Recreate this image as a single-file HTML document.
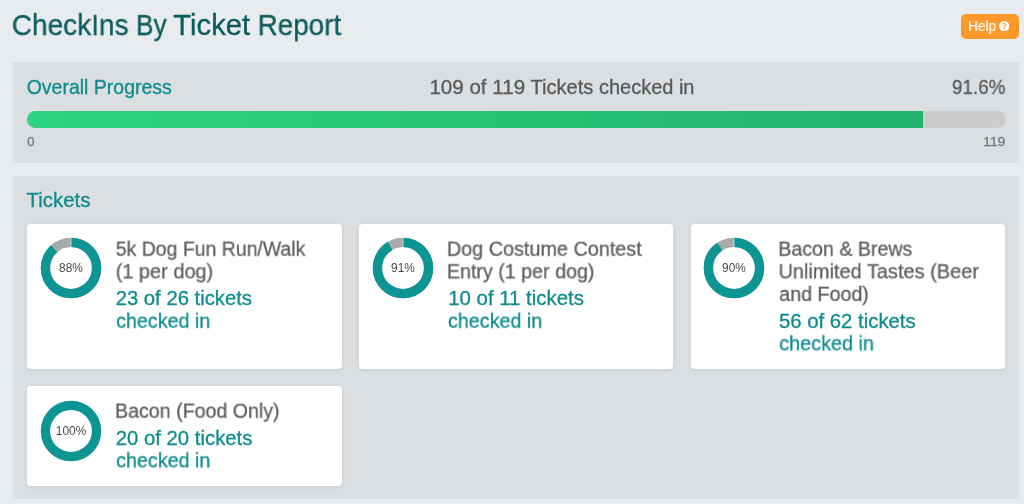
<!DOCTYPE html>
<html><head><meta charset="utf-8">
<style>
*{box-sizing:border-box;margin:0;padding:0}
html,body{width:1024px;height:504px;overflow:hidden}
body{background:#e8ecef;font-family:"Liberation Sans",sans-serif;position:relative}
.x{-webkit-text-stroke:0.3px;will-change:transform;position:absolute;white-space:nowrap;transform-origin:0 0;line-height:1}
.d{position:absolute;will-change:transform}
#help{position:absolute;left:961.2px;top:13.7px;width:58px;height:25px;border-radius:5px;background:#fb9a2b}
.panel{position:absolute;background:#dcdfe2}
#bar{position:absolute;left:27px;top:111.4px;width:978.8px;height:16.7px;border-radius:9px;background:#cccccc;overflow:hidden}
#fill{width:896.3px;height:17px;background:linear-gradient(90deg,#2ed47f,#21b26d)}
.card{position:absolute;background:#fff;border-radius:4px;box-shadow:0 1px 5px rgba(0,0,0,.09)}
</style></head><body>
<div id="help"></div>
<svg class="d" style="left:999px;top:20.5px" width="10.4" height="10.4" viewBox="0 0 20 20"><circle cx="10" cy="10" r="10" fill="#fff"/><text x="10" y="15.5" text-anchor="middle" font-family="Liberation Sans, sans-serif" font-weight="bold" font-size="16" fill="#fb9a2b">?</text></svg>
<div class="panel" style="left:13.3px;top:62px;width:1005.7px;height:101px"></div>
<div class="panel" style="left:13.3px;top:176px;width:1005.7px;height:323.2px"></div>
<div id="bar"><div id="fill"></div></div>
<div class="card" style="left:26.9px;top:224px;width:314.9px;height:145px"></div>
<div class="card" style="left:358.9px;top:224px;width:314.4px;height:145px"></div>
<div class="card" style="left:690.5px;top:224px;width:314.7px;height:145px"></div>
<div class="card" style="left:26.9px;top:386.4px;width:315px;height:99.6px"></div>
<svg class="d" style="left:39.30px;top:236.00px" width="64" height="64" viewBox="-32 -32 64 64"><circle r="25.6" fill="none" stroke="#a7a9aa" stroke-width="9.3"/><circle r="25.6" fill="none" stroke="#0d9495" stroke-width="9.3" stroke-dasharray="141.55 19.30" transform="rotate(-90)"/><line x1="0" y1="-20" x2="0" y2="-32" stroke="#fff" stroke-width="0.6"/><text x="0" y="4.3" transform="scale(0.95,1)" text-anchor="middle" font-family="Liberation Sans, sans-serif" font-size="12.5" fill="#4a4a4a">88%</text></svg>
<svg class="d" style="left:371.00px;top:235.80px" width="64" height="64" viewBox="-32 -32 64 64"><circle r="25.6" fill="none" stroke="#a7a9aa" stroke-width="9.3"/><circle r="25.6" fill="none" stroke="#0d9495" stroke-width="9.3" stroke-dasharray="146.37 14.48" transform="rotate(-90)"/><line x1="0" y1="-20" x2="0" y2="-32" stroke="#fff" stroke-width="0.6"/><text x="0" y="4.3" transform="scale(0.95,1)" text-anchor="middle" font-family="Liberation Sans, sans-serif" font-size="12.5" fill="#4a4a4a">91%</text></svg>
<svg class="d" style="left:702.20px;top:235.80px" width="64" height="64" viewBox="-32 -32 64 64"><circle r="25.6" fill="none" stroke="#a7a9aa" stroke-width="9.3"/><circle r="25.6" fill="none" stroke="#0d9495" stroke-width="9.3" stroke-dasharray="144.76 16.08" transform="rotate(-90)"/><line x1="0" y1="-20" x2="0" y2="-32" stroke="#fff" stroke-width="0.6"/><text x="0" y="4.3" transform="scale(0.95,1)" text-anchor="middle" font-family="Liberation Sans, sans-serif" font-size="12.5" fill="#4a4a4a">90%</text></svg>
<svg class="d" style="left:39.20px;top:398.60px" width="64" height="64" viewBox="-32 -32 64 64"><circle r="25.6" fill="none" stroke="#0d9495" stroke-width="9.3"/><text x="0" y="4.3" transform="scale(0.95,1)" text-anchor="middle" font-family="Liberation Sans, sans-serif" font-size="12.5" fill="#4a4a4a">100%</text></svg>
<div class="x" style="left:11px;top:11px;font-size:29.09px;color:#0b5b5b;transform:translate(0.75px,0.10px) scaleX(0.9634)">CheckIns</div>
<div class="x" style="left:135px;top:11px;font-size:29.09px;color:#0b5b5b;transform:translate(0.94px,0.10px) scaleX(0.9024)">By</div>
<div class="x" style="left:173px;top:11px;font-size:29.09px;color:#0b5b5b;transform:translate(0.35px,0.10px) scaleX(1.0053)">Ticket</div>
<div class="x" style="left:257px;top:11px;font-size:29.09px;color:#0b5b5b;transform:translate(0.61px,0.10px) scaleX(0.9574)">Report</div>
<div class="x" style="left:26px;top:77px;font-size:19.35px;color:#0e8c8d;transform:translate(0.69px,0.90px) scaleX(1.0074)">Overall Progress</div>
<div class="x" style="left:429px;top:77px;font-size:19.35px;color:#595959;transform:translate(0.41px,0.90px) scaleX(1.0629)">109 of 119</div>
<div class="x" style="left:530px;top:77px;font-size:19.35px;color:#595959;transform:translate(0.38px,0.90px) scaleX(1.0397)">Tickets</div>
<div class="x" style="left:598px;top:77px;font-size:19.35px;color:#595959;transform:translate(0.93px,0.90px) scaleX(1.0331)">checked in</div>
<div class="x" style="left:951px;top:77px;font-size:19.35px;color:#595959;transform:translate(0.93px,0.90px) scaleX(0.9728)">91.6%</div>
<div class="x" style="left:27px;top:136px;font-size:12.95px;color:#777;transform:translate(0.20px,0.00px) scaleX(1.0080)">0</div>
<div class="x" style="left:982px;top:136px;font-size:12.95px;color:#777;transform:translate(0.91px,0.00px) scaleX(1.0895)">119</div>
<div class="x" style="left:26px;top:190px;font-size:19.35px;color:#0e8c8d;transform:translate(0.47px,0.70px) scaleX(1.0565)">Tickets</div>
<div class="x" style="left:115px;top:238px;font-size:20.22px;color:#5f5f5f;transform:translate(0.74px,0.70px) scaleX(0.9630)">5k Dog Fun Run/Walk</div>
<div class="x" style="left:115px;top:261px;font-size:20.22px;color:#5f5f5f;transform:translate(0.67px,0.30px) scaleX(0.9870)">(1 per dog)</div>
<div class="x" style="left:115px;top:288px;font-size:20.22px;color:#0e8c8d;transform:translate(0.70px,0.30px) scaleX(1.0026)">23 of 26 tickets</div>
<div class="x" style="left:116px;top:310px;font-size:20.22px;color:#0e8c8d;transform:translate(0.17px,0.70px) scaleX(0.9746)">checked in</div>
<div class="x" style="left:446px;top:238px;font-size:20.22px;color:#5f5f5f;transform:translate(0.89px,0.70px) scaleX(0.9799)">Dog Costume Contest</div>
<div class="x" style="left:446px;top:261px;font-size:20.22px;color:#5f5f5f;transform:translate(0.90px,0.30px) scaleX(0.9731)">Entry (1 per dog)</div>
<div class="x" style="left:448px;top:288px;font-size:20.22px;color:#0e8c8d;transform:translate(0.18px,0.30px) scaleX(1.0102)">10 of 11 tickets</div>
<div class="x" style="left:447px;top:310px;font-size:20.22px;color:#0e8c8d;transform:translate(0.97px,0.70px) scaleX(0.9767)">checked in</div>
<div class="x" style="left:778px;top:238px;font-size:20.22px;color:#5f5f5f;transform:translate(0.30px,0.70px) scaleX(0.9697)">Bacon &amp; Brews</div>
<div class="x" style="left:778px;top:261px;font-size:20.22px;color:#5f5f5f;transform:translate(0.52px,0.30px) scaleX(0.9876)">Unlimited Tastes (Beer</div>
<div class="x" style="left:779px;top:283px;font-size:20.22px;color:#5f5f5f;transform:translate(0.27px,0.90px) scaleX(0.9722)">and Food)</div>
<div class="x" style="left:778px;top:310px;font-size:20.22px;color:#0e8c8d;transform:translate(0.99px,0.90px) scaleX(1.0056)">56 of 62 tickets</div>
<div class="x" style="left:779px;top:333px;font-size:20.22px;color:#0e8c8d;transform:translate(0.26px,0.30px) scaleX(0.9810)">checked in</div>
<div class="x" style="left:115px;top:400px;font-size:20.22px;color:#5f5f5f;transform:translate(0.00px,0.70px) scaleX(0.9706)">Bacon (Food Only)</div>
<div class="x" style="left:115px;top:427px;font-size:20.22px;color:#0e8c8d;transform:translate(0.69px,0.90px) scaleX(1.0063)">20 of 20 tickets</div>
<div class="x" style="left:116px;top:450px;font-size:20.22px;color:#0e8c8d;transform:translate(0.17px,0.30px) scaleX(0.9757)">checked in</div>
<div class="x" style="-webkit-text-stroke:0.1px;left:968px;top:19px;font-size:14.55px;color:#fff;transform:translate(0.03px,0.00px) scaleX(0.9393)">Help</div>
</body></html>
